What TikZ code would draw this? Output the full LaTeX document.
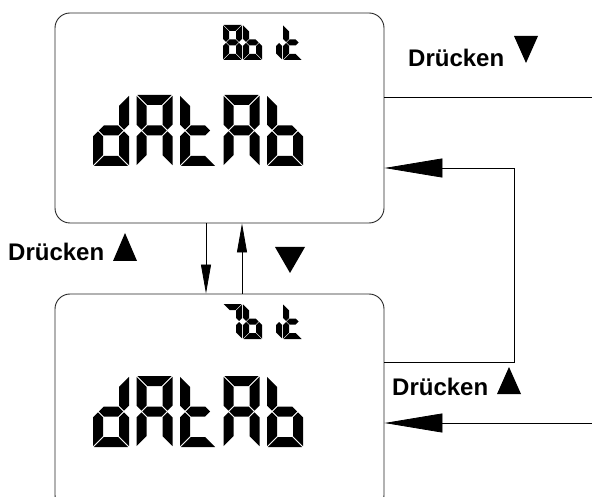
\documentclass[tikz,border=0pt]{standalone}
\usepackage{fontspec}
\setmainfont{Liberation Sans}
\usetikzlibrary{arrows.meta}

% seven segment display pieces (origin = top left of the digit)
\newcommand{\lcdsize}[4]{\def\lcdw{#1}\def\lcdh{#2}\def\lcdt{#3}\def\lcdgap{#4}}
\newcommand{\lcdsega}{\fill (\lcdgap,0) -- (\lcdw-\lcdgap,0) -- (\lcdw-\lcdt-\lcdgap,\lcdt) -- (\lcdt+\lcdgap,\lcdt) -- cycle;}
\newcommand{\lcdsegd}{\fill (\lcdgap,\lcdh) -- (\lcdw-\lcdgap,\lcdh) -- (\lcdw-\lcdt-\lcdgap,\lcdh-\lcdt) -- (\lcdt+\lcdgap,\lcdh-\lcdt) -- cycle;}
\newcommand{\lcdsegg}{\fill (\lcdt/2+\lcdgap,\lcdh/2) -- (\lcdt+\lcdgap,\lcdh/2-\lcdt/2) -- (\lcdw-\lcdt-\lcdgap,\lcdh/2-\lcdt/2) -- (\lcdw-\lcdt/2-\lcdgap,\lcdh/2) -- (\lcdw-\lcdt-\lcdgap,\lcdh/2+\lcdt/2) -- (\lcdt+\lcdgap,\lcdh/2+\lcdt/2) -- cycle;}
\newcommand{\lcdsegf}{\fill (0,\lcdgap) -- (\lcdt,\lcdt+\lcdgap) -- (\lcdt,\lcdh/2-\lcdt/2-\lcdgap) -- (\lcdt/2,\lcdh/2-\lcdgap) -- (0,\lcdh/2-\lcdt/2-\lcdgap) -- cycle;}
\newcommand{\lcdsege}{\fill (0,\lcdh-\lcdgap) -- (\lcdt,\lcdh-\lcdt-\lcdgap) -- (\lcdt,\lcdh/2+\lcdt/2+\lcdgap) -- (\lcdt/2,\lcdh/2+\lcdgap) -- (0,\lcdh/2+\lcdt/2+\lcdgap) -- cycle;}
\newcommand{\lcdsegb}{\fill (\lcdw,\lcdgap) -- (\lcdw-\lcdt,\lcdt+\lcdgap) -- (\lcdw-\lcdt,\lcdh/2-\lcdt/2-\lcdgap) -- (\lcdw-\lcdt/2,\lcdh/2-\lcdgap) -- (\lcdw,\lcdh/2-\lcdt/2-\lcdgap) -- cycle;}
\newcommand{\lcdsegc}{\fill (\lcdw,\lcdh-\lcdgap) -- (\lcdw-\lcdt,\lcdh-\lcdt-\lcdgap) -- (\lcdw-\lcdt,\lcdh/2+\lcdt/2+\lcdgap) -- (\lcdw-\lcdt/2,\lcdh/2+\lcdgap) -- (\lcdw,\lcdh/2+\lcdt/2+\lcdgap) -- cycle;}
\newcommand{\lcdchar}[3]{%
  \begin{scope}[shift={(#1,#2)}]
    \edef\lcdlist{#3}%
    \foreach \s in \lcdlist {\csname lcdseg\s\endcsname}
  \end{scope}}

\begin{document}
\begin{tikzpicture}[x=1pt,y=-1pt,
    lcdbox/.style={draw=black!85, line width=0.9pt, rounded corners=15pt,
      minimum width=329pt, minimum height=#1, inner sep=0pt},
    press/.style={font=\bfseries\fontsize{24}{28}\selectfont, anchor=base west, inner sep=0pt},
    bigtip/.style={line width=0.8pt, -{Triangle[length=58pt,width=19pt]}},
    smalltip/.style={line width=0.8pt, -{Triangle[length=29pt,width=10pt]}}]
		\useasboundingbox (0,0) rectangle (592,497);
		\clip (0,0) rectangle (592,497);
		
		% Displays
		\node[lcdbox=210pt] (top) at (219.5,118) {};
		\node[lcdbox=216pt] (bot) at (219.5,402) {};
		
		% Readouts
		\lcdsize{36}{71}{10}{0.8}
		\foreach \segs [count=\i from 0] in {{b,c,d,e,g},{a,b,c,e,f,g},{d,e,f,g},{a,b,c,e,f,g},{c,d,e,f,g}} {
			\lcdchar{93+43.5*\i}{95}{\segs}
			\lcdchar{93+43.5*\i}{376}{\segs}
		}
		\lcdsize{19}{35}{6}{0.5}
		\foreach \segs [count=\i from 0] in {{a,b,c,d,e,f,g},{c,d,e,f,g},{c},{d,e,f,g}}
			\lcdchar{223+20*\i}{25}{\segs};
		\foreach \segs [count=\i from 0] in {{a,b,c},{c,d,e,f,g},{c},{d,e,f,g}}
			\lcdchar{223+20*\i}{304}{\segs};
		
		% Connectors
		\coordinate (outA) at (592,97);
		\coordinate (loopA) at (514,362);
		\coordinate (loopB) at (514,168);
		\coordinate (inB) at (592,423);
		\coordinate (dn) at (206,0);
		\coordinate (up) at (242,0);
		\draw[line width=0.8pt] (outA -| top.east) -- (outA);
		\draw[bigtip] (loopA -| bot.east) -- (loopA) -- (loopB) -- (loopB -| top.east);
		\draw[bigtip] (inB) -- (inB -| bot.east);
		\draw[smalltip] (dn |- top.south) -- (dn |- bot.north);
		\draw[smalltip] (up |- bot.north) -- (up |- top.south);
		
		% Labels
		\node[press] (pressA) at (408,67) {Drücken};
		\node[press] (pressB) at (8,261) {Drücken};
		\node[press] (pressC) at (392,395) {Drücken};
		\fill (514,36) -- (538,36) -- (526,63) -- cycle;
		\fill (113,261) -- (137,261) -- (125,233) -- cycle;
		\fill (497,394) -- (521,394) -- (509,367) -- cycle;
		\fill (275,247) -- (305,247) -- (290,273) -- cycle;
\end{tikzpicture}
\end{document}
